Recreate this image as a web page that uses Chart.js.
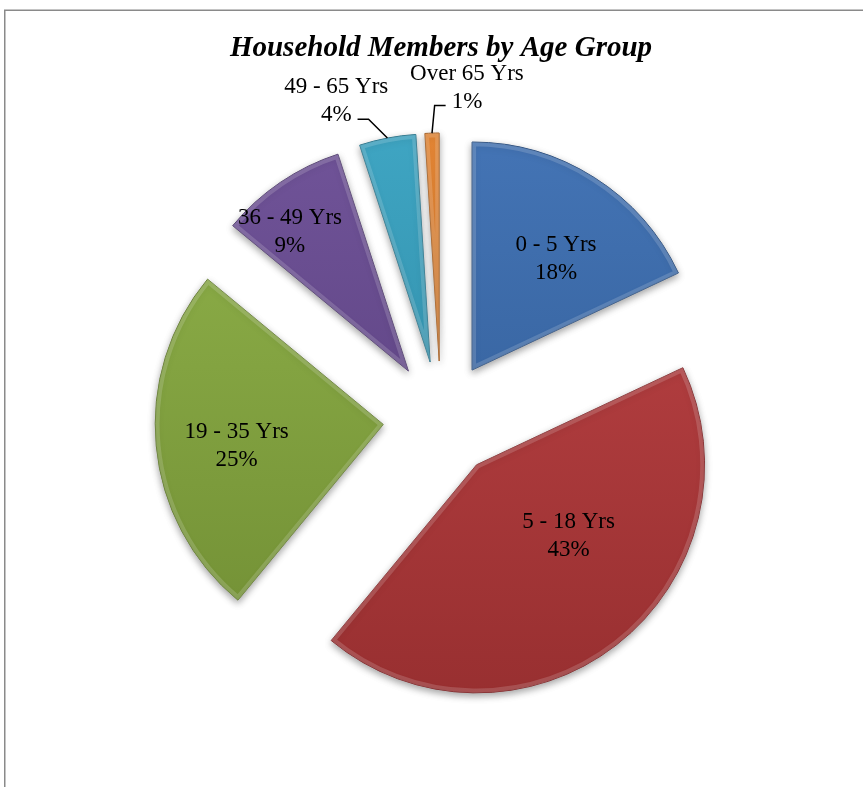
<!DOCTYPE html>
<html>
<head>
<meta charset="utf-8">
<script src="https://cdn.jsdelivr.net/npm/chart.js@4/dist/chart.umd.min.js"></script>
<style>
  html, body { margin: 0; padding: 0; background: #ffffff; }
  #c { display: block; }
</style>
</head>
<body>
<canvas id="c" width="863" height="787"></canvas>
<script>
// ---- data ----
const categories = ['0 - 5 Yrs', '5 - 18 Yrs', '19 - 35 Yrs', '36 - 49 Yrs', '49 - 65 Yrs', 'Over 65 Yrs'];
const shares = [18, 43, 25, 9, 4, 1];
const percentLabels = ['18%', '43%', '25%', '9%', '4%', '1%'];
const chartTitle = 'Household Members by Age Group';

// ---- styling ----
const baseColors = ['#3a6eb4', '#b9383a', '#8aae3f', '#6a4b96', '#35a3c3', '#e9822a'];
const EXPLODE = 58;       // px each slice is pulled out along its bisector
// label placement: fraction of radius from slice apex, and angle tweak (deg)
const labelRadial = [0.61, 0.51, 0.65, 0.80, 1.216, 1.206];
const labelAngle  = [4.7, -14.5, -3.1, -6.3, -9.0, 7.6];
const outsideLabel = [false, false, false, false, true, true];

function shade(hex, f) {
  const n = parseInt(hex.slice(1), 16);
  let r = (n >> 16) & 255, g = (n >> 8) & 255, b = n & 255;
  const t = f < 0 ? 0 : 255, p = Math.abs(f);
  r = Math.round((t - r) * p + r); g = Math.round((t - g) * p + g); b = Math.round((t - b) * p + b);
  return 'rgb(' + r + ',' + g + ',' + b + ')';
}

const framePlugin = {
  id: 'frame',
  beforeDraw(chart) {
    const ctx = chart.ctx;
    ctx.save();
    ctx.fillStyle = '#ffffff';
    ctx.fillRect(0, 0, chart.width, chart.height);
    ctx.strokeStyle = '#8a8a8a';
    ctx.lineWidth = 1.5;
    ctx.beginPath();
    ctx.moveTo(4.75, chart.height);
    ctx.lineTo(4.75, 10.25);
    ctx.lineTo(chart.width, 10.25);
    ctx.stroke();
    // title
    ctx.fillStyle = '#000000';
    ctx.font = 'italic bold 29px "Liberation Serif", "Times New Roman", serif';
    ctx.textAlign = 'center';
    ctx.textBaseline = 'alphabetic';
    const ca = chart.chartArea;
    ctx.fillText(chartTitle, (ca.left + ca.right) / 2, 56);
    ctx.restore();
  }
};

const explodePlugin = {
  id: 'explode',
  beforeDatasetDraw(chart, args) {
    const ctx = chart.ctx;
    args.meta.data.forEach((arc) => {
      const mid = (arc.startAngle + arc.endAngle) / 2;
      ctx.save();
      ctx.translate(Math.cos(mid) * EXPLODE, Math.sin(mid) * EXPLODE);
      ctx.save();
      ctx.shadowColor = 'rgba(0,0,0,0.35)';
      ctx.shadowBlur = 7;
      ctx.shadowOffsetY = 3;
      arc.draw(ctx);
      ctx.restore();
      // soft bevel highlight along the inside of the edges
      const saved = arc.options;
      arc.options = Object.assign({}, saved, {
        backgroundColor: 'rgba(0,0,0,0)',
        borderColor: 'rgba(255,255,255,0.16)',
        borderWidth: 4,
        borderAlign: 'inner'
      });
      arc.draw(ctx);
      arc.options = saved;
      ctx.restore();
    });
    return false;
  }
};

const labelPlugin = {
  id: 'sliceLabels',
  afterDatasetsDraw(chart) {
    const ctx = chart.ctx;
    const meta = chart.getDatasetMeta(0);
    ctx.save();
    ctx.font = '23px "Liberation Serif", "Times New Roman", serif';
    ctx.fillStyle = '#000000';
    ctx.textAlign = 'center';
    ctx.textBaseline = 'middle';
    meta.data.forEach((arc, i) => {
      const mid = (arc.startAngle + arc.endAngle) / 2;
      const r = arc.outerRadius;
      const ax = arc.x + Math.cos(mid) * EXPLODE;
      const ay = arc.y + Math.sin(mid) * EXPLODE;
      const a = mid + labelAngle[i] * Math.PI / 180;
      const lx = ax + Math.cos(a) * r * labelRadial[i];
      const ly = ay + Math.sin(a) * r * labelRadial[i];
      ctx.fillText(categories[i], lx, ly - 14);
      ctx.fillText(percentLabels[i], lx, ly + 14);
      if (outsideLabel[i]) {
        const px = ax + Math.cos(mid) * r;
        const py = ay + Math.sin(mid) * r;
        const w = ctx.measureText(percentLabels[i]).width;
        const dir = px > lx ? 1 : -1;
        const sx = lx + dir * (w / 2 + 6);
        const sy = ly + 18;
        ctx.beginPath();
        ctx.strokeStyle = '#000000';
        ctx.lineWidth = 1.5;
        ctx.moveTo(sx, sy);
        ctx.lineTo(sx + dir * 11, sy);
        ctx.lineTo(px, py);
        ctx.stroke();
      }
    });
    ctx.restore();
  }
};

const ctx = document.getElementById('c').getContext('2d');
new Chart(ctx, {
  type: 'pie',
  data: {
    labels: categories,
    datasets: [{
      data: shares,
      radius: 228,
      backgroundColor: (c) => {
        const base = baseColors[c.dataIndex % baseColors.length];
        const chart = c.chart;
        const ca = chart.chartArea;
        if (!ca) return base;
        const cy = (ca.top + ca.bottom) / 2;
        const g = chart.ctx.createLinearGradient(0, cy - 290, 0, cy + 290);
        g.addColorStop(0, shade(base, 0.06));
        g.addColorStop(1, shade(base, -0.2));
        return g;
      },
      borderColor: (c) => shade(baseColors[c.dataIndex % baseColors.length], -0.3),
      borderWidth: 1
    }]
  },
  options: {
    responsive: false,
    animation: false,
    layout: { padding: { left: 19, top: 51, right: 0, bottom: 0 } },
    plugins: {
      legend: { display: false },
      tooltip: { enabled: false },
      title: { display: false }
    }
  },
  plugins: [framePlugin, explodePlugin, labelPlugin]
});
</script>
</body>
</html>
